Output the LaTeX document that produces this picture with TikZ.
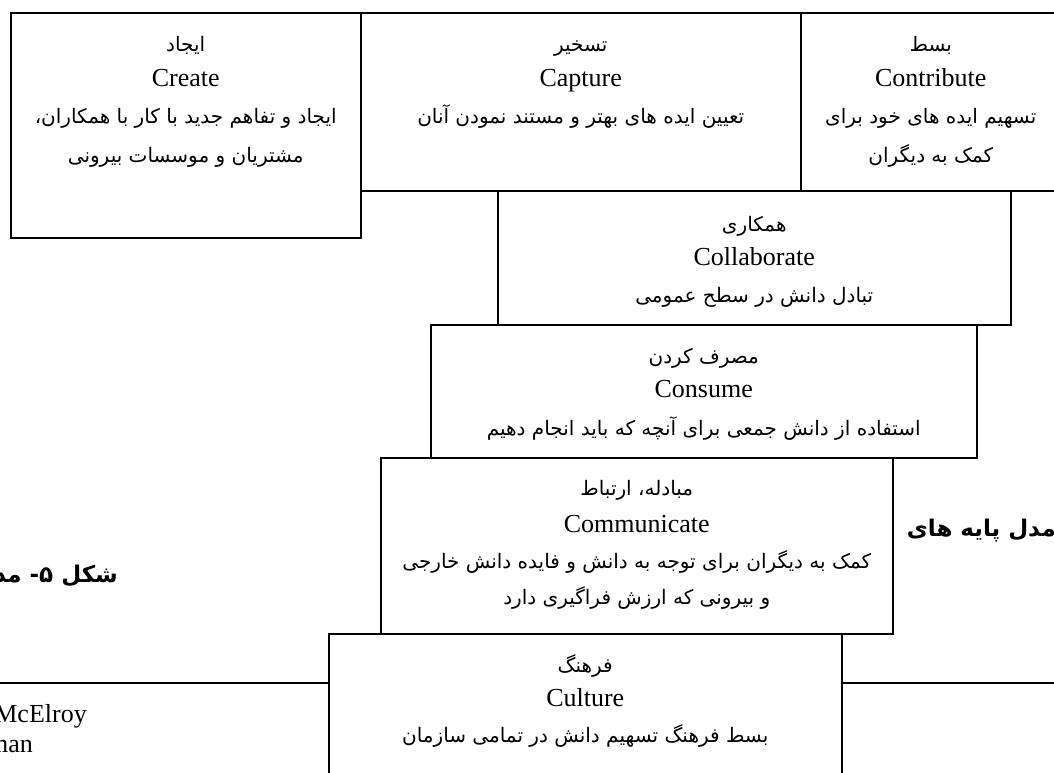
\documentclass[tikz,border=0pt]{standalone}
\usepackage{fontspec}
\setmainfont{Liberation Serif}
\newfontfamily\fafont[Script=Arabic]{DejaVu Sans}
\TeXXeTstate=1
\begin{document}
\begin{tikzpicture}[x=1pt,y=-1pt,
  stage/.style={draw, line width=1.5pt, fill=white, anchor=north west, inner sep=0pt},
  en/.style={anchor=base, inner sep=0pt, font=\fontsize{26}{30}\selectfont},
  fa/.style={anchor=base, inner sep=0pt, font=\fafont\fontsize{20}{24}\selectfont},
  captionline/.style={anchor=base east, inner sep=0pt, font=\fafont\bfseries\fontsize{23}{28}\selectfont}]
\useasboundingbox (0,0) rectangle (1054,772);
\clip (0,0) rectangle (1054,772);

% caption lines lying behind the stages
\node[captionline] (capright) at (1056,536) {\beginR مدل پایه های\endR};
\node[captionline] (capleft) at (118,582) {\beginR شکل ۵- مدل\endR};

% the lower frame behind the base stage
\node[stage, minimum width=1080pt, minimum height=130pt] (frame) at (-13,682) {};
\node[en, anchor=base east] (ref1) at (87,722) {McElroy};
\node[en, anchor=base east] (ref2) at (33,752) {man};

% stages
\node[stage, minimum width=350pt, minimum height=225pt] (create) at (10,12) {};
\node[stage, minimum width=440pt, minimum height=178pt] (capture) at (360,12) {};
\node[stage, minimum width=260pt, minimum height=178pt] (contribute) at (800,12) {};
\node[stage, minimum width=513pt, minimum height=134pt] (collab) at (497,190) {};
\node[stage, minimum width=546pt, minimum height=133pt] (consume) at (430,324) {};
\node[stage, minimum width=512pt, minimum height=176pt] (communicate) at (380,457) {};
\node[stage, minimum width=513pt, minimum height=160pt] (culture) at (328,633) {};

% Create
\node[fa] (create-fa) at ([yshift=-39pt]create.north) {\beginR ایجاد\endR};
\node[en] (create-en) at ([yshift=-74pt]create.north) {Create};
\node[fa] (create-d1) at ([yshift=-111pt]create.north) {\beginR ایجاد و تفاهم جدید با کار با همکاران،\endR};
\node[fa] (create-d2) at ([yshift=-150pt]create.north) {\beginR مشتریان و موسسات بیرونی\endR};

% Capture
\node[fa] (capture-fa) at ([yshift=-39pt]capture.north) {\beginR تسخیر\endR};
\node[en] (capture-en) at ([yshift=-74pt]capture.north) {Capture};
\node[fa] (capture-d1) at ([yshift=-111pt]capture.north) {\beginR تعیین ایده های بهتر و مستند نمودن آنان\endR};

% Contribute
\node[fa] (contribute-fa) at ([yshift=-39pt]contribute.north) {\beginR بسط\endR};
\node[en] (contribute-en) at ([yshift=-74pt]contribute.north) {Contribute};
\node[fa] (contribute-d1) at ([yshift=-111pt]contribute.north) {\beginR تسهیم ایده های خود برای\endR};
\node[fa] (contribute-d2) at ([yshift=-150pt]contribute.north) {\beginR کمک به دیگران\endR};

% Collaborate
\node[fa] (collab-fa) at ([yshift=-41pt]collab.north) {\beginR همکاری\endR};
\node[en] (collab-en) at ([yshift=-75pt]collab.north) {Collaborate};
\node[fa] (collab-d1) at ([yshift=-112pt]collab.north) {\beginR تبادل دانش در سطح عمومی\endR};

% Consume
\node[fa] (consume-fa) at ([yshift=-39pt]consume.north) {\beginR مصرف کردن\endR};
\node[en] (consume-en) at ([yshift=-73pt]consume.north) {Consume};
\node[fa] (consume-d1) at ([yshift=-111pt]consume.north) {\beginR استفاده از دانش جمعی برای آنچه که باید انجام دهیم\endR};

% Communicate
\node[fa] (communicate-fa) at ([yshift=-38pt]communicate.north) {\beginR مبادله، ارتباط\endR};
\node[en] (communicate-en) at ([yshift=-75pt]communicate.north) {Communicate};
\node[fa] (communicate-d1) at ([yshift=-111pt]communicate.north) {\beginR کمک به دیگران برای توجه به دانش و فایده دانش خارجی\endR};
\node[fa] (communicate-d2) at ([yshift=-147pt]communicate.north) {\beginR و بیرونی که ارزش فراگیری دارد\endR};

% Culture
\node[fa] (culture-fa) at ([yshift=-39pt]culture.north) {\beginR فرهنگ\endR};
\node[en] (culture-en) at ([yshift=-73pt]culture.north) {Culture};
\node[fa] (culture-d1) at ([yshift=-109pt]culture.north) {\beginR بسط فرهنگ تسهیم دانش در تمامی سازمان\endR};
\end{tikzpicture}
\end{document}
